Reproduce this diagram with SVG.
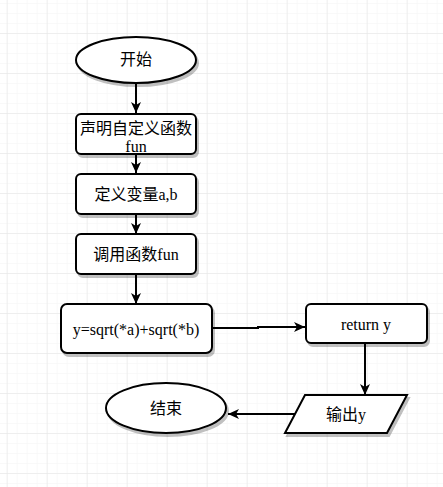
<svg xmlns="http://www.w3.org/2000/svg" width="443" height="487" viewBox="0 0 443 487">
<defs>
<pattern id="minor" x="6.7" y="3" width="10" height="10" patternUnits="userSpaceOnUse">
<path d="M0,0 H10 M0,0 V10" stroke="#f3f3f3" stroke-width="1" fill="none"/>
</pattern>
<pattern id="major" x="6.7" y="33" width="40" height="40" patternUnits="userSpaceOnUse">
<path d="M0,0 H40 M0,0 V40" stroke="#e4e4e4" stroke-width="1" fill="none"/>
</pattern>
<marker id="arr" markerUnits="userSpaceOnUse" markerWidth="12" markerHeight="12" viewBox="0 0 12 12" refX="11" refY="6" orient="auto">
<path d="M0,1 L11,6 L0,11 L3,6 z" fill="#000"/>
</marker>
<filter id="sh" x="-10%" y="-10%" width="130%" height="140%">
<feOffset in="SourceAlpha" dx="2" dy="3" result="o"/>
<feComponentTransfer in="o" result="g"><feFuncA type="linear" slope="0.25"/></feComponentTransfer>
<feMerge><feMergeNode in="g"/><feMergeNode in="SourceGraphic"/></feMerge>
</filter>
</defs>
<style>
.shape{fill:#fff;stroke:#000;stroke-width:2;filter:url(#sh)}
.t{font-family:"Liberation Serif","Noto Sans CJK SC",serif;font-size:16px;fill:#000;text-anchor:middle;dominant-baseline:central}
.c{fill:none;stroke:#000;stroke-width:2;marker-end:url(#arr)}
</style>
<rect width="443" height="487" fill="#fff"/>
<rect width="443" height="487" fill="url(#minor)"/>
<rect width="443" height="487" fill="url(#major)"/>

<g id="connectors">
<path class="c" d="M136,83 V113"/>
<path class="c" d="M136,154 V173"/>
<path class="c" d="M136,214 V234"/>
<path class="c" d="M136,274 V304"/>
<path class="c" d="M212,328 H258 V327 H305"/>
<path class="c" d="M365,343 V395"/>
<path class="c" d="M296,414 H228"/>
</g>

<g id="start">
<ellipse class="shape" cx="136" cy="60" rx="60" ry="23"/>
<text class="t" x="136" y="59">开始</text>
</g>
<g id="declare">
<rect class="shape" x="76" y="114" width="120" height="40" rx="5"/>
<text class="t" x="136" y="128">声明自定义函数</text>
<text class="t" x="136" y="146">fun</text>
</g>
<g id="define">
<rect class="shape" x="76" y="174" width="120" height="40" rx="5"/>
<text class="t" x="136" y="194">定义变量a,b</text>
</g>
<g id="call">
<rect class="shape" x="76" y="234" width="120" height="40" rx="5"/>
<text class="t" x="136" y="254">调用函数fun</text>
</g>
<g id="compute">
<rect class="shape" x="61" y="304" width="151" height="49" rx="6"/>
<text class="t" x="136" y="329">y=sqrt(*a)+sqrt(*b)</text>
</g>
<g id="return">
<rect class="shape" x="306" y="304" width="121" height="39" rx="5"/>
<text class="t" x="366" y="324">return y</text>
</g>
<g id="output">
<polygon class="shape" points="305,395 407,395 387,433 285,433"/>
<text class="t" x="346" y="414">输出y</text>
</g>
<g id="end">
<ellipse class="shape" cx="166" cy="408" rx="60" ry="25"/>
<text class="t" x="166" y="408">结束</text>
</g>
</svg>
